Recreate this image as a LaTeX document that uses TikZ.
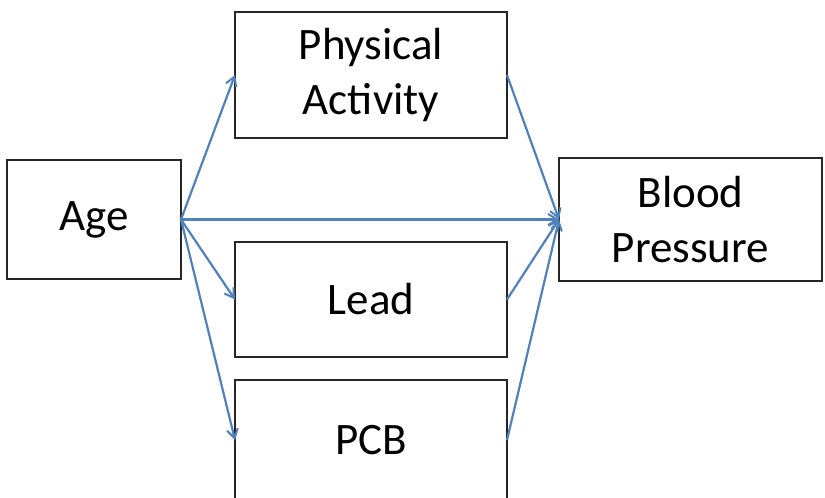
\documentclass[tikz,border=0pt]{standalone}
\usepackage{fontspec}
\setmainfont{Carlito}
\usetikzlibrary{arrows.meta}
\definecolor{linkblue}{HTML}{4F81BD}
\definecolor{boxgray}{HTML}{262626}

\begin{document}
\begin{tikzpicture}[x=1pt,y=-1pt,
    var/.style={draw=boxgray,line width=2.6pt,inner sep=0pt,outer sep=0pt,
      align=center,font=\fontsize{45}{55}\selectfont},
    link/.style={linkblue,line width=2.2pt,-{Straight Barb[length=9pt,width=11pt,line width=2pt]}}]
    \useasboundingbox (0,0) rectangle (825,498);
    \clip (0,0) rectangle (825,498);
    % variables
    \node[var,minimum width=174,minimum height=119] (age) at (94,219.5) {Age};
    \node[var,minimum width=272,minimum height=126] (pa) at (371,75) {Physical\\Activity};
    \node[var,minimum width=272,minimum height=115] (lead) at (371,299.5) {Lead};
    \node[var,minimum width=272,minimum height=120] (pcb) at (371,440) {PCB};
    \node[var,minimum width=263,minimum height=123] (bp) at (690.5,219.5) {Blood\\Pressure};
    % paths
    \draw[link] (age.east) -- (pa.west);
    \draw[link] (age.east) -- (lead.west);
    \draw[link] (age.east) -- (pcb.west);
    \draw[link] (age.east) -- (bp.west);
    \draw[link] (pa.east) -- (bp.west);
    \draw[link] (lead.east) -- (bp.west);
    \draw[link] (pcb.east) -- (bp.west);
\end{tikzpicture}
\end{document}
